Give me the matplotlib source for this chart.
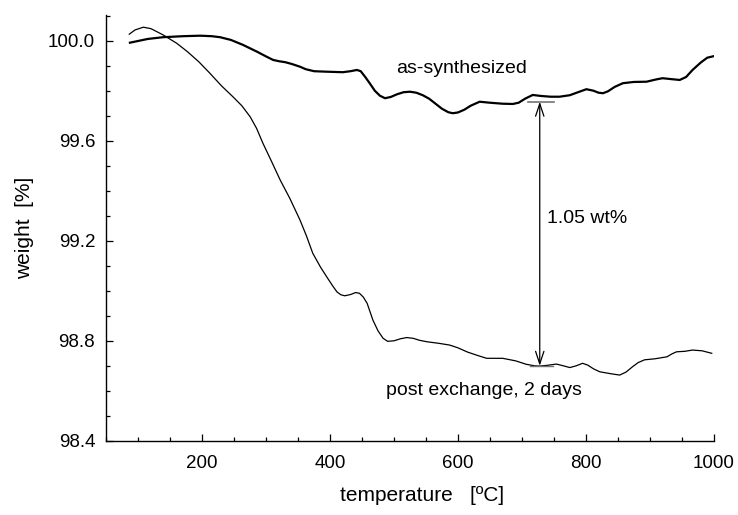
import numpy as np
import matplotlib.pyplot as plt
from matplotlib.ticker import MultipleLocator

plt.rcParams['font.family'] = ['Liberation Sans', 'DejaVu Sans']

# as-synthesized TGA trace (temperature in C, weight in %)
t_as = [87, 100, 115, 139, 170, 197, 215, 228, 245, 264, 285, 300, 311, 320,
        330, 340, 353, 362, 375, 395, 420, 432, 442, 448, 455, 462, 470,
        478, 486, 495, 505, 515, 525, 535, 545, 555, 565, 575, 585, 592,
        600, 610, 620, 634, 650, 670, 686, 695, 705, 717, 730, 745, 759,
        775, 790, 801, 812, 820, 827, 835, 845, 858, 875, 895, 910, 920,
        935, 947, 957, 967, 980, 990, 1000]
w_as = [99.992, 99.999, 100.007, 100.014, 100.018, 100.02, 100.018, 100.014,
        100.003, 99.983, 99.957, 99.937, 99.923, 99.918, 99.914, 99.907,
        99.896, 99.886, 99.878, 99.876, 99.874, 99.878, 99.883, 99.878,
        99.855, 99.83, 99.8, 99.78, 99.77, 99.775, 99.786, 99.794, 99.796,
        99.792, 99.782, 99.768, 99.748, 99.728, 99.714, 99.71, 99.713,
        99.724, 99.74, 99.756, 99.752, 99.748, 99.747, 99.752, 99.768,
        99.783, 99.779, 99.776, 99.776, 99.782, 99.796, 99.806, 99.8,
        99.792, 99.79, 99.798, 99.815, 99.83, 99.835, 99.836, 99.845, 99.85,
        99.846, 99.843, 99.855, 99.883, 99.913, 99.932, 99.938]

# post exchange, 2 days
t_px = [86, 95, 108, 120, 139, 160, 177, 195, 212, 230, 248, 262, 275, 285,
        295, 308, 322, 337, 353, 363, 373, 385, 395, 404, 411, 417, 423,
        432, 440, 446, 452, 458, 467, 475, 483, 490, 500, 510, 520, 530,
        540, 552, 570, 587, 600, 615, 630, 645, 670, 690, 707, 720, 728,
        740, 754, 765, 775, 785, 795, 803, 812, 822, 840, 853, 863, 873,
        882, 892, 908, 927, 935, 942, 955, 967, 982, 997]
w_px = [100.026, 100.043, 100.054, 100.048, 100.023, 99.99, 99.956, 99.915,
        99.87, 99.82, 99.776, 99.74, 99.696, 99.65, 99.59, 99.52, 99.443,
        99.37, 99.283, 99.22, 99.15, 99.095, 99.055, 99.02, 98.995, 98.984,
        98.98, 98.985, 98.993, 98.99, 98.975, 98.95, 98.883, 98.84, 98.81,
        98.798, 98.8, 98.808, 98.813, 98.81, 98.802, 98.796, 98.79, 98.783,
        98.772, 98.755, 98.742, 98.73, 98.73, 98.72, 98.706, 98.7, 98.699,
        98.702, 98.707, 98.7, 98.693, 98.7, 98.71, 98.703, 98.688, 98.676,
        98.668, 98.663, 98.675, 98.696, 98.713, 98.724, 98.728, 98.736,
        98.748, 98.756, 98.758, 98.763, 98.76, 98.75]

# arrow showing the weight difference
arrow_t = 728
arrow_top = 99.756
arrow_bot = 98.70
diff_label = '1.05 wt%'

fig = plt.figure(figsize=(7.38, 5.15), dpi=100)
ax = fig.add_axes([0.144, 0.144, 0.823, 0.827])

ax.plot(t_as, w_as, color='black', lw=1.6, solid_joinstyle='round')
ax.plot(t_px, w_px, color='black', lw=0.9, solid_joinstyle='round')

# short bars at both ends of the arrow
ax.plot([arrow_t - 19, arrow_t + 22], [arrow_top, arrow_top], color='0.45', lw=1.2)
ax.plot([arrow_t - 16, arrow_t + 20], [arrow_bot, arrow_bot], color='0.45', lw=1.0)
ax.annotate('', xy=(arrow_t, arrow_bot), xytext=(arrow_t, arrow_top),
            arrowprops=dict(arrowstyle='<->,head_length=0.9,head_width=0.3',
                            color='black', lw=0.9, shrinkA=0, shrinkB=0))

ax.text(740, 99.29, diff_label, fontsize=14, va='center', ha='left')
ax.text(503, 99.89, 'as-synthesized', fontsize=14, va='center', ha='left')
ax.text(488, 98.603, 'post exchange, 2 days', fontsize=14, va='center', ha='left')

ax.set_xlim(50, 1000)
ax.set_ylim(98.4, 100.103)
ax.xaxis.set_major_locator(MultipleLocator(200))
ax.xaxis.set_minor_locator(MultipleLocator(50))
ax.yaxis.set_major_locator(MultipleLocator(0.4))
ax.yaxis.set_minor_locator(MultipleLocator(0.1))
ax.set_xticks([200, 400, 600, 800, 1000])
ax.yaxis.set_major_formatter(plt.FormatStrFormatter('%.1f'))

for s in ['top', 'right']:
    ax.spines[s].set_visible(False)
for s in ['left', 'bottom']:
    ax.spines[s].set_linewidth(1.0)

ax.tick_params(which='both', direction='in', labelsize=13.5, width=0.9)
ax.tick_params(which='major', length=5)
ax.tick_params(which='minor', length=3)
ax.tick_params(axis='x', pad=10)
ax.tick_params(axis='y', pad=8)

ax.set_xlabel('temperature   [ºC]', fontsize=15, labelpad=10)
ax.xaxis.label.set_x(0.52)
ax.set_ylabel('weight  [%]', fontsize=15, labelpad=10)

fig.savefig('out.png', dpi=100)
